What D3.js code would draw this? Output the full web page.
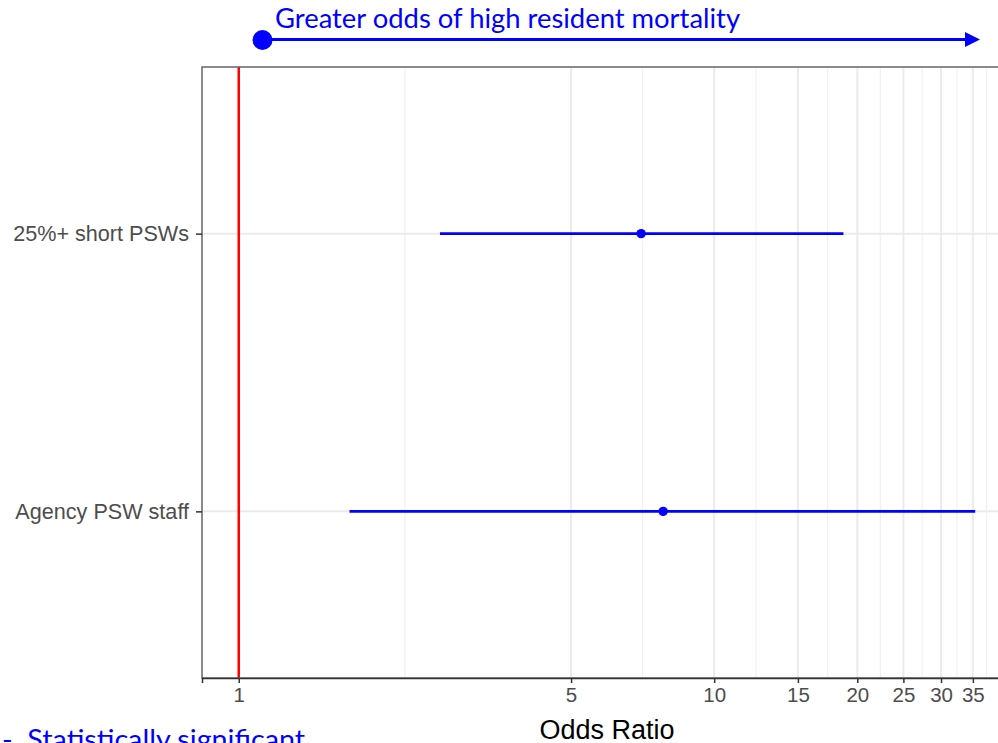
<!DOCTYPE html>
<html>
<head>
<meta charset="utf-8">
<script src="https://cdn.jsdelivr.net/npm/d3@7"></script>
<style>
  html, body { margin: 0; padding: 0; background: #fff; overflow: hidden; }
  svg { display: block; }
</style>
</head>
<body>
<svg id="chart" width="998" height="743"></svg>
<script>
// data
var categories = ["Agency PSW staff", "25%+ short PSWs"];
var oddsRatio = [7.81, 7.02];
var ciLow = [1.71, 2.65];
var ciHigh = [35.4, 18.7];
var tickValues = [1, 5, 10, 15, 20, 25, 30, 35];
var hiddenBreak = 40; // only gives the last minor gridline
var topNote = "Greater odds of high resident mortality";
var bottomNote = "-  Statistically significant";
var xTitle = "Odds Ratio";

var svg = d3.select("#chart");
var blue = "#0000FF";
var axisFont = "'Liberation Sans', Arial, sans-serif";

var panel = { left: 202, top: 67, bottom: 678, right: 1003 };

var x = d3.scaleLog()
  .domain([0.837, 40.5])
  .range([panel.left, panel.right]);

// ggplot style discrete axis, first level at bottom
var y = d3.scalePoint()
  .domain(categories.slice().reverse())
  .range([panel.top, panel.bottom])
  .padding(0.6);

var g = svg.append("g");

// minor gridlines at geometric midpoints of the breaks
var allBreaks = tickValues.concat([hiddenBreak]);
var minor = [];
for (var i = 0; i < allBreaks.length - 1; i++) {
  minor.push(Math.sqrt(allBreaks[i] * allBreaks[i + 1]));
}

g.selectAll(".minor").data(minor).enter().append("line")
  .attr("x1", d => x(d)).attr("x2", d => x(d))
  .attr("y1", panel.top).attr("y2", panel.bottom)
  .attr("stroke", "#F0F0F0").attr("stroke-width", 1.2);

g.selectAll(".major").data(tickValues).enter().append("line")
  .attr("x1", d => x(d)).attr("x2", d => x(d))
  .attr("y1", panel.top).attr("y2", panel.bottom)
  .attr("stroke", "#EBEBEB").attr("stroke-width", 2);

g.selectAll(".hgrid").data(categories).enter().append("line")
  .attr("x1", panel.left).attr("x2", panel.right)
  .attr("y1", d => y(d)).attr("y2", d => y(d))
  .attr("stroke", "#EBEBEB").attr("stroke-width", 2);

// reference line at OR = 1
g.append("line")
  .attr("x1", x(1)).attr("x2", x(1))
  .attr("y1", panel.top).attr("y2", panel.bottom)
  .attr("stroke", "#FF0000").attr("stroke-width", 2.5);

// panel border
g.append("rect")
  .attr("x", panel.left).attr("y", panel.top)
  .attr("width", panel.right - panel.left)
  .attr("height", panel.bottom - panel.top)
  .attr("fill", "none").attr("stroke", "#666").attr("stroke-width", 1.5);

// error bars + points
g.selectAll(".ci").data(categories).enter().append("line")
  .attr("x1", (d, i) => x(ciLow[i])).attr("x2", (d, i) => x(ciHigh[i]))
  .attr("y1", d => y(d)).attr("y2", d => y(d))
  .attr("stroke", blue).attr("stroke-width", 2.6);

g.selectAll(".pt").data(categories).enter().append("circle")
  .attr("cx", (d, i) => x(oddsRatio[i])).attr("cy", d => y(d))
  .attr("r", 4.7).attr("fill", blue);

// axes
var xAxis = d3.axisBottom(x).tickValues(tickValues).tickFormat(d3.format("d")).tickSize(5).tickPadding(4);
var xg = svg.append("g").attr("transform", "translate(0," + panel.bottom + ")").call(xAxis);
xg.attr("font-family", axisFont).attr("font-size", 20.5);
xg.select(".domain").attr("stroke", "#333").attr("stroke-width", 1.5);
xg.selectAll(".tick line").attr("stroke", "#333").attr("stroke-width", 1.5);
xg.selectAll(".tick text").attr("fill", "#4D4D4D");

var yAxis = d3.axisLeft(y).tickSize(6).tickPadding(7);
var yg = svg.append("g").attr("transform", "translate(" + panel.left + ",0)").call(yAxis);
yg.attr("font-family", axisFont).attr("font-size", 21.6);
yg.select(".domain").remove();
yg.selectAll(".tick line").attr("stroke", "#333").attr("stroke-width", 1.5);
yg.selectAll(".tick text").attr("fill", "#4D4D4D");

svg.append("text")
  .attr("x", 607).attr("y", 739)
  .attr("text-anchor", "middle")
  .attr("font-family", axisFont).attr("font-size", 27)
  .attr("fill", "#000")
  .text(xTitle);

// annotation arrow on top
svg.append("line")
  .attr("x1", 262).attr("x2", 967)
  .attr("y1", 39.5).attr("y2", 39.5)
  .attr("stroke", blue).attr("stroke-width", 3);
svg.append("circle").attr("cx", 262.5).attr("cy", 40).attr("r", 10).attr("fill", blue);
svg.append("path")
  .attr("d", d3.line()([[965, 32], [980, 39.5], [965, 47]]) + "Z")
  .attr("fill", blue);

svg.append("text")
  .attr("x", 275).attr("y", 27.5)
  .attr("textLength", 465).attr("lengthAdjust", "spacingAndGlyphs")
  .attr("font-family", "Lato, 'Open Sans', sans-serif").attr("font-size", 26)
  .attr("fill", blue)
  .text(topNote);

// cut by the bottom edge, as in the original slide
svg.append("text")
  .attr("x", 2).attr("y", 749)
  .attr("textLength", 303).attr("lengthAdjust", "spacingAndGlyphs")
  .attr("font-family", "Lato, 'Open Sans', sans-serif").attr("font-size", 26)
  .style("white-space", "pre")
  .attr("fill", blue)
  .text(bottomNote);
</script>
</body>
</html>
